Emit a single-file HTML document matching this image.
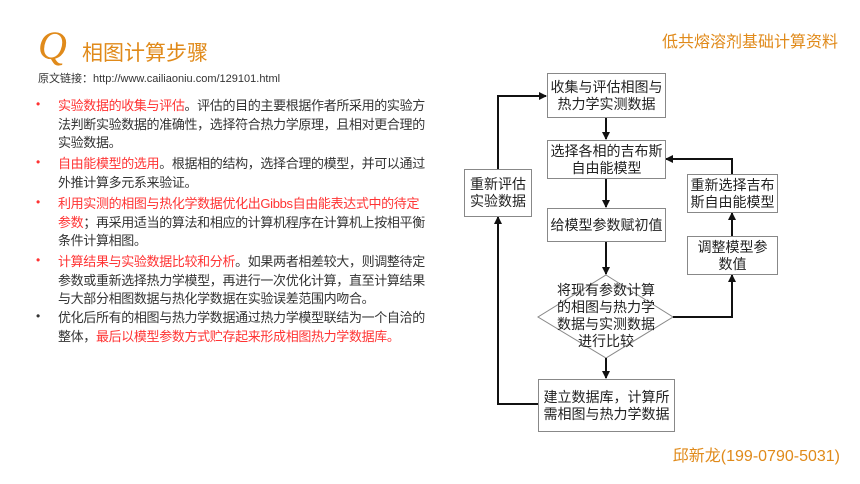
<!DOCTYPE html>
<html><head><meta charset="utf-8"><style>
body{margin:0;width:860px;height:484px;background:#fff;position:relative;overflow:hidden;font-family:"Liberation Sans","Noto Sans CJK SC",sans-serif;}
.a{position:absolute;}
.t{position:absolute;left:58px;font-size:13px;line-height:18.5px;color:#333;white-space:nowrap;letter-spacing:-0.35px;}
.r{color:#f33;}
.b{position:absolute;left:36px;font-size:12px;}
.box{position:absolute;border:1px solid #888;background:#fff;display:flex;align-items:center;justify-content:center;text-align:center;font-size:14px;line-height:17px;color:#222;}
</style></head><body>
<div class="a" style="left:38px;top:22px;font-family:'Liberation Serif',serif;font-style:italic;font-size:40px;color:#e08a1a;">Q</div>
<div class="a" style="left:82px;top:37px;font-size:21px;color:#e08a1a;">相图计算步骤</div>
<div class="a" style="left:38px;top:70px;font-size:11px;color:#333;">原文链接：http://www.cailiaoniu.com/129101.html</div>
<div class="a" style="right:22px;top:28px;font-size:16px;color:#e08a1a;">低共熔溶剂基础计算资料</div>
<div class="b" style="top:97px;color:#f33">•</div>
<div class="t" style="top:97px"><span class="r">实验数据的收集与评估</span>。评估的目的主要根据作者所采用的实验方<br>法判断实验数据的准确性，选择符合热力学原理，且相对更合理的<br>实验数据。</div>
<div class="b" style="top:155px;color:#f33">•</div>
<div class="t" style="top:155px"><span class="r">自由能模型的选用</span>。根据相的结构，选择合理的模型，并可以通过<br>外推计算多元系来验证。</div>
<div class="b" style="top:195px;color:#f33">•</div>
<div class="t" style="top:195px"><span class="r">利用实测的相图与热化学数据优化出Gibbs自由能表达式中的待定<br>参数</span>；再采用适当的算法和相应的计算机程序在计算机上按相平衡<br>条件计算相图。</div>
<div class="b" style="top:253px;color:#f33">•</div>
<div class="t" style="top:253px"><span class="r">计算结果与实验数据比较和分析</span>。如果两者相差较大，则调整待定<br>参数或重新选择热力学模型，再进行一次优化计算，直至计算结果<br>与大部分相图数据与热化学数据在实验误差范围内吻合。</div>
<div class="b" style="top:309px;color:#333">•</div>
<div class="t" style="top:309px">优化后所有的相图与热力学数据通过热力学模型联结为一个自洽的<br>整体，<span class="r">最后以模型参数方式贮存起来形成相图热力学数据库。</span></div>

<svg class="a" style="left:0;top:0" width="860" height="484">
<defs><marker id="m" markerWidth="8" markerHeight="8" refX="7" refY="4" orient="auto" markerUnits="userSpaceOnUse"><path d="M0,0L8,4L0,8z" fill="#111"/></marker></defs>
<polygon points="606,275 673,317 606,358 538,317" fill="#fff" stroke="#888"/>
<g stroke="#111" stroke-width="2" fill="none">
<line x1="606" y1="117" x2="606" y2="139" marker-end="url(#m)"/>
<line x1="606" y1="178" x2="606" y2="207" marker-end="url(#m)"/>
<line x1="606" y1="241" x2="606" y2="274" marker-end="url(#m)"/>
<line x1="606" y1="358" x2="606" y2="378" marker-end="url(#m)"/>
<polyline points="538,404 498,404 498,217" marker-end="url(#m)"/>
<polyline points="498,169 498,96 546,96" marker-end="url(#m)"/>
<polyline points="673,317 732,317 732,275" marker-end="url(#m)"/>
<line x1="732" y1="236" x2="732" y2="213" marker-end="url(#m)"/>
<polyline points="732,174 732,159 666,159" marker-end="url(#m)"/>
</g>
</svg>
<div class="box" style="left:547px;top:73px;width:117px;height:43px">收集与评估相图与<br>热力学实测数据</div>
<div class="box" style="left:547px;top:140px;width:117px;height:37px">选择各相的吉布斯<br>自由能模型</div>
<div class="box" style="left:547px;top:208px;width:117px;height:32px">给模型参数赋初值</div>
<div class="a" style="left:548px;top:282px;width:116px;text-align:center;font-size:14px;line-height:17px;color:#222">将现有参数计算<br>的相图与热力学<br>数据与实测数据<br>进行比较</div>
<div class="box" style="left:538px;top:379px;width:135px;height:51px">建立数据库，计算所<br>需相图与热力学数据</div>
<div class="box" style="left:464px;top:169px;width:66px;height:46px">重新评估<br>实验数据</div>
<div class="box" style="left:687px;top:174px;width:89px;height:37px">重新选择吉布<br>斯自由能模型</div>
<div class="box" style="left:687px;top:236px;width:89px;height:37px">调整模型参<br>数值</div>
<div class="a" style="right:20px;top:442px;font-size:16px;color:#e08a1a;">邱新龙(199-0790-5031)</div>
</body></html>
